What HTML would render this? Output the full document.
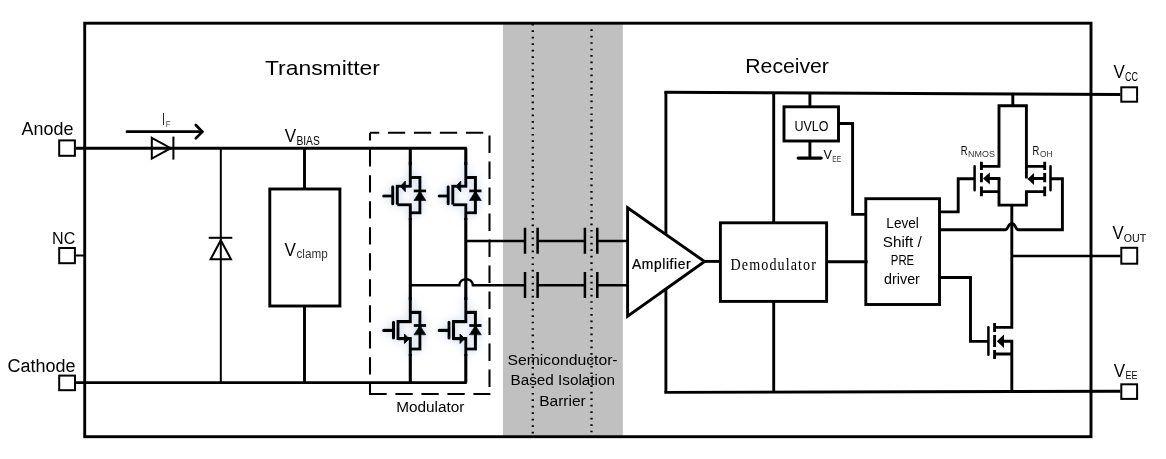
<!DOCTYPE html>
<html lang="en">
<head>
<meta charset="utf-8">
<title>Isolated gate driver block diagram</title>
<style>
html,body{margin:0;padding:0;background:#fff;}
body{width:1166px;height:459px;overflow:hidden;}
svg{display:block;will-change:transform;}
text{font-family:"Liberation Sans",sans-serif;fill:#000;}
.w3{stroke:#000;stroke-width:2.9;fill:none;stroke-linejoin:miter;stroke-linecap:butt;}
.w25{stroke:#000;stroke-width:2.5;fill:none;stroke-linejoin:miter;stroke-linecap:butt;}
.w2{stroke:#000;stroke-width:2;fill:none;stroke-linejoin:miter;stroke-linecap:butt;}
.wm{stroke:#000;stroke-width:3.1;fill:none;stroke-linejoin:miter;stroke-linecap:butt;}
.pin{stroke:#000;stroke-width:2;fill:#fff;}
.dash{stroke:#000;stroke-width:2.05;fill:none;stroke-dasharray:17.3 8.7;}
.dot{stroke:#000;stroke-width:2.3;fill:none;stroke-dasharray:1.7 4.775;}
.serif{font-family:"Liberation Serif","Noto Serif CJK SC",serif;}
.sub{fill:#333;}
.fw{fill:#fff;}
</style>
</head>
<body>
<svg width="1166" height="459" viewBox="0 0 1166 459">
<defs>
<filter id="glow" x="-40%" y="-40%" width="180%" height="180%">
<feGaussianBlur in="SourceAlpha" stdDeviation="4" result="b"/>
<feFlood flood-color="#9db4da" flood-opacity="0.62"/>
<feComposite in2="b" operator="in" result="g"/>
<feMerge><feMergeNode in="g"/><feMergeNode in="SourceGraphic"/></feMerge>
</filter>
<!-- P-type MOSFET with body diode (top pair); origin = main vertical x, y offset 165 -->
<g id="pmos">
<path class="wm" d="M0 -3 V21.3 H-13 M-13 19.8 V39.7 M-13 39.7 H0 V55 M0 12.5 H9.6 V47.8 H0"/>
<path class="wm" style="stroke-linecap:round" d="M-17.6 21.9 V38.7 M-26.6 31 H-17.6"/>
<path d="M-9.9 21.4 L-5 16 V26.8 Z" fill="#000" stroke="#000" stroke-width="1"/>
<path d="M9.6 26 L15.6 35.5 H3.6 Z" fill="#000" stroke="#000" stroke-width="0.8"/>
<path d="M3.4 25.9 H15.8" stroke="#000" stroke-width="2.9" fill="none"/>
</g>
<g id="nmos">
<path class="wm" d="M0 -3 V21.6 H-12.3 M-12.3 20.1 V40.1 M-12.3 38.6 H0 V56 M0 12.4 H9.6 V49 H0"/>
<path class="wm" style="stroke-linecap:round" d="M-16.8 22.3 V38 M-26.6 30.4 H-16.8"/>
<path d="M-1.2 38.8 L-5.8 34 V43.6 Z" fill="#000" stroke="#000" stroke-width="1"/>
<path d="M9.6 25.4 L15.6 34.8 H3.6 Z" fill="#000" stroke="#000" stroke-width="0.8"/>
<path d="M3.4 25.5 H15.8" stroke="#000" stroke-width="2.9" fill="none"/>
</g>
</defs>

<!-- isolation barrier band -->
<rect x="503" y="23.2" width="119.8" height="413.5" fill="#c0c0c0"/>
<path class="dot" d="M532.8 23.8 V436"/>
<path class="dot" d="M591.5 29.2 V436"/>

<!-- outer border -->
<rect x="84.7" y="23.2" width="1006.3" height="413.5" class="w3"/>

<!-- titles -->
<text x="264.9" y="74.5" font-size="21" textLength="115" lengthAdjust="spacingAndGlyphs">Transmitter</text>
<text x="745.3" y="72.6" font-size="21" textLength="83.6" lengthAdjust="spacingAndGlyphs">Receiver</text>

<!-- left pins -->
<text x="21.6" y="135.3" font-size="17.8" textLength="51.8" lengthAdjust="spacingAndGlyphs">Anode</text>
<text x="52.1" y="244.3" font-size="17" textLength="23.2" lengthAdjust="spacingAndGlyphs">NC</text>
<text x="7.4" y="371.5" font-size="18" textLength="68" lengthAdjust="spacingAndGlyphs">Cathode</text>
<path class="w3" d="M76 148.2 H466.8"/>
<path class="w3" d="M76 382.65 H466.8"/>
<path class="w2" d="M76 255.5 H84"/>
<rect class="pin" x="59.2" y="140.4" width="15.7" height="15.4"/>
<rect class="pin" x="59.2" y="248" width="15.7" height="15.2"/>
<rect class="pin" x="59.2" y="375.6" width="15.8" height="14.6"/>

<!-- IF arrow + series diode -->
<path d="M127 131.7 H202" stroke="#000" stroke-width="2.7" fill="none" stroke-linecap="round"/>
<path d="M195.8 125 L202.3 131.7 L195.8 138.4" stroke="#000" stroke-width="2.7" fill="none" stroke-linecap="round" stroke-linejoin="miter"/>
<text x="162.3" y="125.2" font-size="17.2" textLength="2.6" lengthAdjust="spacingAndGlyphs">I</text>
<text x="165.7" y="127.3" font-size="8.6" textLength="4.8" lengthAdjust="spacingAndGlyphs" fill="#444" style="fill:#444">F</text>
<path class="w2" d="M151.8 137.8 L170.8 148.2 L151.8 158.6 Z"/>
<path class="w2" d="M173.4 136.6 V159.6"/>

<!-- antiparallel diode -->
<path class="w2" d="M220.8 148.2 V382.5"/>
<path class="w2" d="M208.7 237.8 H232.3"/>
<path class="w2" d="M220.8 240.2 L231 259.3 H210.6 Z"/>

<!-- Vclamp -->
<text x="284.7" y="141.8" font-size="17.8" textLength="11.4" lengthAdjust="spacingAndGlyphs">V</text>
<text x="296.4" y="144.9" font-size="12" textLength="23.4" lengthAdjust="spacingAndGlyphs">BIAS</text>
<path class="w3" d="M304.5 148.2 V189 M304.5 306 V382.5"/>
<rect class="w3" x="269.8" y="189" width="70.1" height="117"/>
<text x="284.6" y="255.8" font-size="17.8" textLength="11.4" lengthAdjust="spacingAndGlyphs">V</text>
<text class="sub" x="296.5" y="257.8" font-size="12.2" textLength="31.2" lengthAdjust="spacingAndGlyphs">clamp</text>

<!-- modulator dashed box -->
<path class="dash" d="M370 132.8 H489.5" stroke-dashoffset="8.1"/>
<path class="dash" d="M489.5 132.8 V394" stroke-dashoffset="23.2"/>
<path class="dash" d="M370 394 H490.4" stroke-dashoffset="0.6"/>
<path class="dash" d="M370 132.8 V394.9" stroke-dashoffset="9.6"/>
<text x="396.2" y="411.8" font-size="14" textLength="68.2" lengthAdjust="spacingAndGlyphs">Modulator</text>

<!-- modulator switches -->
<g filter="url(#glow)">
<use href="#pmos" x="410.3" y="165"/>
<use href="#pmos" x="465.8" y="165"/>
<use href="#nmos" x="410.3" y="300"/>
<use href="#nmos" x="465.8" y="300"/>
</g>
<path class="wm" d="M410.3 148.2 V165 M465.8 148.2 V165 M410.3 218 V300 M465.8 218 V300 M410.3 354 V382.5 M465.8 354 V382.5"/>

<!-- modulator outputs + isolation capacitors -->
<path class="w25" d="M465.8 241.1 H525 M537.6 241.1 H584.9 M597.3 241.1 H628"/>
<path class="w25" d="M410.3 285.3 H459.3 C459.6 277.2 472.6 277.2 472.9 285.3 H525 M537.6 285.3 H584.9 M597.3 285.3 H628"/>
<path class="w25" d="M525 227.7 V253.7 M537.6 227.7 V253.7 M584.9 227.7 V253.7 M597.3 227.7 V253.7"/>
<path class="w25" d="M525 272 V298 M537.6 272 V298 M584.9 272 V298 M597.3 272 V298"/>

<!-- receiver rails -->
<path class="w3" d="M665.9 92 V392.4"/>
<path class="w3" d="M664.4 92.2 L1120.4 94.5"/>
<path class="w3" d="M664.4 392.4 L1120.4 391.2"/>
<path class="w3" d="M773.7 92.5 V222.8 M773.7 301.4 V392.2"/>

<!-- amplifier -->
<path class="w3 fw" d="M627.6 207.8 L704.6 261.5 L627.6 316.2 Z"/>
<text x="632" y="268.8" font-size="13.8" textLength="58.6" lengthAdjust="spacing" stroke="#000" stroke-width="0.22">Amplifier</text>
<path class="w3" d="M705 261.4 H720.4"/>

<!-- demodulator -->
<rect class="w3 fw" x="720.4" y="222.8" width="106.2" height="78.6"/>
<text class="serif" transform="translate(730.6 269.9) scale(0.86 1)" font-size="16.4" textLength="99.2" lengthAdjust="spacing">Demodulator</text>

<!-- UVLO -->
<path class="w3" d="M809.9 93 V106.8 M809.9 141 V158.1"/>
<rect class="w3 fw" x="784" y="106.8" width="54.5" height="34.2"/>
<text x="794.4" y="130.7" font-size="13.8" textLength="34.1" lengthAdjust="spacingAndGlyphs">UVLO</text>
<path d="M798.3 158.1 H821.1" stroke="#000" stroke-width="3.4" stroke-linecap="round" fill="none"/>
<text x="823.6" y="159.1" font-size="12.8" textLength="8.4" lengthAdjust="spacingAndGlyphs">V</text>
<text class="sub" x="832.3" y="161.7" font-size="8.5" textLength="8.7" lengthAdjust="spacingAndGlyphs">EE</text>
<path class="w3" d="M838.5 123.5 H852.6 V214.4 H865.8"/>

<!-- level shift -->
<rect class="w3 fw" x="865.8" y="198.7" width="73.7" height="105.8"/>
<path class="w3" d="M826.6 261.7 H867.6"/>
<text x="886.3" y="228" font-size="14" textLength="32.6" lengthAdjust="spacingAndGlyphs">Level</text>
<text x="882.8" y="246.7" font-size="14" textLength="38.9" lengthAdjust="spacingAndGlyphs">Shift /</text>
<text x="890.8" y="265.3" font-size="14" textLength="23.4" lengthAdjust="spacingAndGlyphs">PRE</text>
<text x="884" y="284.1" font-size="14" textLength="35.9" lengthAdjust="spacingAndGlyphs">driver</text>

<!-- output stage: upper pair -->
<path class="w3" d="M1012.8 94 V105.7"/>
<path class="w3" d="M981.4 166.4 H999 V105.7 H1026.4 V178.6 M1026.4 166.4 H1044.7"/>
<path class="w3" d="M981.4 191.6 H999 M999 178.5 V205.1 H1026.4 V191.6 H1044.7"/>
<path class="w3" d="M989 178.5 H1000.4 M1033 178.5 H1044.7"/>
<path d="M983 178.5 L989.8 172.6 V184.4 Z" fill="#000"/>
<path d="M1027.4 179 L1034 173 V185 Z" fill="#000"/>
<path class="w3" d="M981.4 161.8 V170 M981.4 172.9 V182.3 M981.4 186.6 V196.3"/>
<path class="w3" d="M1044.7 161.8 V170 M1044.7 172.9 V182.3 M1044.7 186.6 V196.3"/>
<path class="w25" style="stroke-linecap:round" d="M974.6 166.2 V190.3 M1050.5 166.2 V190.3"/>
<path class="w3" d="M939.5 211.9 H958.2 V178.8 H974.6"/>
<path class="w3" d="M939.5 229.8 H1005.2 C1008.6 229.8 1007.4 223.6 1011.8 223.6 C1016.2 223.6 1015 229.8 1018.4 229.8 H1062.4 V178.8 H1050.5"/>
<text x="960.7" y="154.7" font-size="13" textLength="6.8" lengthAdjust="spacingAndGlyphs">R</text>
<text class="sub" x="968.1" y="156.7" font-size="8.4" textLength="26.8" lengthAdjust="spacingAndGlyphs">NMOS</text>
<text x="1032.6" y="154.7" font-size="13" textLength="6.8" lengthAdjust="spacingAndGlyphs">R</text>
<text class="sub" x="1040" y="156.7" font-size="8.4" textLength="12.4" lengthAdjust="spacingAndGlyphs">OH</text>

<!-- output node + lower NMOS -->
<path class="w3" d="M1011.8 205.1 V327.4 H994.6 M1011.8 391.3 V341.3 H1003 M994.6 354 H1011.8"/>
<path d="M996.8 341.3 L1004 334.6 V348 Z" fill="#000"/>
<path class="w3" d="M994.6 323 V332 M994.6 335 V347 M994.6 350 V359"/>
<path class="w25" style="stroke-linecap:round" d="M988.4 327.2 V354.8"/>
<path class="w3" d="M939.5 277.5 H970.5 V341.4 H988.4"/>
<path class="w25" d="M1011.8 255.9 H1120.4"/>

<!-- right pins -->
<rect class="pin" x="1121.3" y="87.3" width="15.8" height="14.4"/>
<rect class="pin" x="1121.3" y="247.8" width="15.9" height="15.9"/>
<rect class="pin" x="1121.3" y="384.3" width="15.8" height="14.6"/>
<text x="1113.4" y="77.7" font-size="17.6" textLength="11.3" lengthAdjust="spacingAndGlyphs">V</text>
<text x="1125" y="80.7" font-size="12" textLength="13" lengthAdjust="spacingAndGlyphs">CC</text>
<text x="1112.6" y="239.2" font-size="17.6" textLength="11.2" lengthAdjust="spacingAndGlyphs">V</text>
<text x="1123.8" y="241.9" font-size="11.6" textLength="22.4" lengthAdjust="spacingAndGlyphs">OUT</text>
<text x="1113.8" y="377" font-size="17.6" textLength="11.4" lengthAdjust="spacingAndGlyphs">V</text>
<text x="1125.6" y="378.9" font-size="11.4" textLength="12" lengthAdjust="spacingAndGlyphs">EE</text>

<!-- barrier caption -->
<text x="507.5" y="364.9" font-size="15.5" textLength="110.1" lengthAdjust="spacingAndGlyphs">Semiconductor-</text>
<text x="510.5" y="384.9" font-size="15.5" textLength="104.5" lengthAdjust="spacingAndGlyphs">Based Isolation</text>
<text x="539.2" y="405.9" font-size="15.5" textLength="46.5" lengthAdjust="spacingAndGlyphs">Barrier</text>
</svg>
</body>
</html>
